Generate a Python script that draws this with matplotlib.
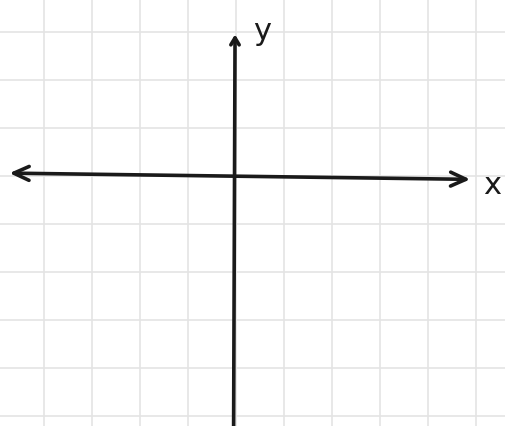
import matplotlib
matplotlib.use("Agg")
import matplotlib.pyplot as plt

# grid (in grid units; origin at axis crossing)
x_grid = [-4, -3, -2, -1, 0, 1, 2, 3, 4, 5]
y_grid = [-5, -4, -3, -2, -1, 0, 1, 2, 3]
# axis extents
x_axis_start, x_axis_end = -4.72, 4.88
y_axis_start, y_axis_end = -5.3, 2.95
axis_labels = ["x", "y"]

fig = plt.figure(figsize=(5.06, 4.26), dpi=100)
ax = fig.add_axes([0, 0, 1, 1])
ax.set_xlim(-236 / 48, 270 / 48)
ax.set_ylim(-250 / 48, 176 / 48)
ax.axis("off")
fig.patch.set_facecolor("white")

for gx in x_grid:
    ax.axvline(gx, color="#e4e4e4", lw=1.2, zorder=1)
for gy in y_grid:
    ax.axhline(gy, color="#e4e4e4", lw=1.2, zorder=1)

ink = "#1a1a1a"
ax.annotate("", xy=(x_axis_end, -0.07), xytext=(x_axis_start, 0.06),
            arrowprops=dict(arrowstyle="<->,head_length=1.1,head_width=0.5",
                            color=ink, lw=2.6, shrinkA=0, shrinkB=0), zorder=3)
ax.annotate("", xy=(-0.02, y_axis_end), xytext=(-0.05, y_axis_start),
            arrowprops=dict(arrowstyle="->,head_length=0.5,head_width=0.3",
                            color=ink, lw=2.6, shrinkA=0, shrinkB=0), zorder=3)

ax.text(5.33, -0.2, axis_labels[0], fontsize=22, color=ink, ha="center", va="center")
ax.text(0.55, 3.0, axis_labels[1], fontsize=22, color=ink, ha="center", va="center")

fig.savefig("out.png", dpi=100)
